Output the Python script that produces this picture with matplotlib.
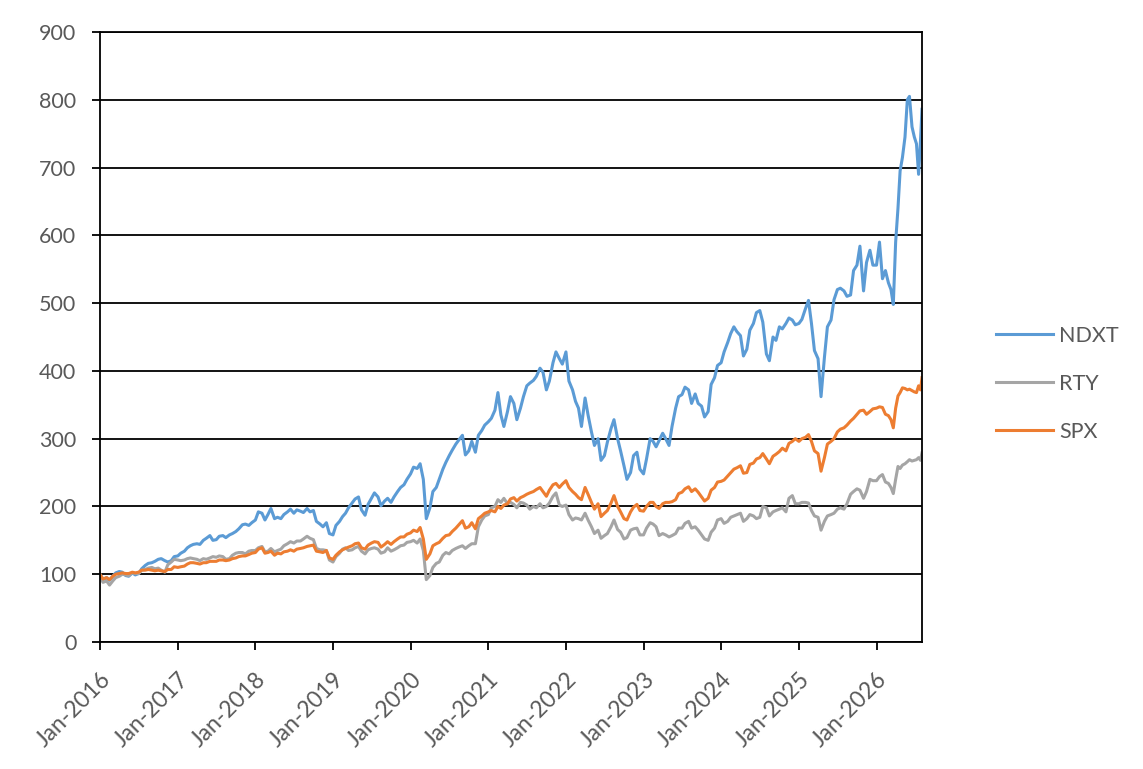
import matplotlib
matplotlib.use("Agg")
import matplotlib.pyplot as plt
import pandas as pd

# semi-monthly points 2016-2025, then denser points through 2026
DATES_2016_2025 = list(pd.date_range("2016-01-01", "2025-12-15", freq="SMS"))
DATES_2026 = ["2026-01-01", "2026-01-15", "2026-01-29", "2026-02-12", "2026-02-26",
              "2026-03-10", "2026-03-21", "2026-04-01", "2026-04-12", "2026-04-22",
              "2026-05-03", "2026-05-15", "2026-05-26", "2026-06-05", "2026-06-17",
              "2026-06-28", "2026-07-08", "2026-07-18", "2026-07-27", "2026-08-03"]

NDXT = [
    100, 92, 95, 91, 97, 102, 104, 103, 98, 97, 102, 99, 101, 108, 113, 116, 117, 119, 122, 123, 120, 118, 120, 126,
    127, 131, 134, 139, 142, 144, 145, 144, 150, 153, 157, 150, 151, 156, 157, 154, 158, 160, 163, 167, 173, 174, 172, 176,
    180, 192, 190, 180, 188, 197, 182, 184, 182, 188, 192, 196, 190, 195, 193, 191, 197, 192, 194, 178, 174, 170, 176, 160,
    158, 172, 178, 185, 190, 198, 205, 211, 214, 195, 187, 203, 212, 220, 214, 201, 208, 212, 206, 214, 222, 228, 232, 240,
    248, 258, 256, 263, 240, 182, 198, 222, 228, 240, 255, 265, 275, 283, 292, 298, 305, 276, 282, 296, 280, 305, 312, 320,
    325, 330, 342, 368, 335, 318, 340, 362, 352, 328, 345, 362, 378, 382, 386, 392, 404, 398, 372, 385, 412, 428, 418, 410,
    428, 385, 372, 355, 345, 318, 360, 335, 310, 290, 300, 268, 275, 295, 315, 328, 300, 282, 260, 240, 250, 275, 280, 255,
    248, 270, 300, 296, 288, 297, 308, 300, 290, 318, 345, 362, 365, 376, 372, 352, 366, 352, 348, 332, 340, 380, 390, 408,
    412, 428, 442, 455, 465, 458, 452, 422, 432, 460, 470, 486, 489, 472, 425, 415, 450, 445, 465, 462, 470, 478, 475, 468,
    470, 476, 492, 504, 470, 430, 418, 362, 420, 465, 475, 505, 520, 522, 518, 510, 512, 548, 556, 584, 518, 560, 578, 556,
    556, 590, 536, 548, 530, 520, 498, 590, 640, 695, 715, 745, 800, 805, 760, 745, 735, 690, 740, 786,
]

RTY = [
    98, 88, 90, 84, 90, 95, 97, 100, 99, 98, 102, 101, 101, 106, 107, 109, 110, 108, 109, 106, 103, 114, 118, 122,
    121, 120, 121, 123, 124, 123, 122, 120, 123, 122, 124, 126, 125, 127, 126, 122, 123, 128, 131, 132, 132, 130, 134, 135,
    135, 139, 141, 133, 134, 138, 133, 135, 137, 142, 145, 148, 146, 149, 149, 152, 156, 153, 151, 138, 136, 136, 135, 121,
    118, 126, 131, 137, 139, 135, 136, 139, 141, 134, 130, 136, 138, 139, 137, 131, 133, 139, 134, 136, 139, 142, 143, 147,
    148, 150, 146, 152, 135, 92, 98, 110, 116, 118, 128, 132, 130, 135, 138, 140, 142, 138, 142, 145, 145, 170, 180, 186,
    188, 198, 200, 210, 206, 212, 204, 206, 203, 198, 206, 205, 202, 196, 200, 198, 204, 198, 200, 205, 215, 220, 202, 200,
    202, 188, 180, 183, 182, 180, 190, 180, 170, 160, 165, 153, 157, 160, 170, 180, 166, 162, 152, 154, 165, 167, 168, 158,
    158, 168, 176, 174, 170, 157, 160, 158, 155, 157, 160, 168, 168, 175, 178, 168, 170, 165, 158, 152, 150, 162, 168, 180,
    182, 175, 178, 184, 186, 188, 190, 178, 182, 188, 186, 182, 184, 200, 198, 186, 192, 194, 196, 198, 192, 212, 216, 204,
    204, 206, 206, 205, 194, 186, 184, 165, 178, 186, 188, 190, 196, 198, 196, 204, 218, 222, 226, 224, 212, 222, 240, 238,
    238, 244, 247, 236, 234, 228, 219, 240, 259, 256, 261, 263, 266, 269, 267, 268, 269, 272, 268, 279,
]

SPX = [
    100, 93, 95, 92, 97, 100, 101, 102, 101, 101, 103, 102, 103, 106, 106, 107, 106, 105, 106, 105, 104, 107, 107, 111,
    110, 111, 112, 115, 117, 117, 116, 115, 117, 117, 119, 119, 119, 121, 121, 120, 121, 123, 124, 126, 127, 127, 129, 131,
    132, 137, 139, 131, 132, 134, 128, 131, 130, 133, 134, 136, 134, 137, 138, 139, 141, 142, 143, 134, 133, 132, 135, 124,
    122, 128, 133, 136, 138, 140, 142, 145, 146, 139, 137, 143, 146, 148, 147, 140, 144, 148, 144, 148, 152, 155, 155, 159,
    161, 165, 163, 169, 152, 122, 130, 142, 145, 147, 153, 157, 158, 163, 168, 173, 179, 168, 170, 176, 167, 182, 186, 190,
    192, 194, 192, 200, 197, 202, 204, 211, 213, 208, 213, 215, 218, 220, 222, 225, 228, 222, 215, 224, 232, 234, 228, 233,
    238, 228, 222, 218, 213, 210, 228, 218, 206, 196, 204, 185, 190, 194, 205, 216, 200, 192, 182, 180, 192, 199, 203, 194,
    193, 200, 206, 206, 200, 197, 204, 206, 206, 207, 210, 219, 221, 226, 229, 222, 226, 221, 214, 208, 212, 224, 228, 236,
    237, 239, 245, 250, 255, 257, 260, 249, 250, 262, 264, 270, 272, 278, 270, 263, 274, 277, 281, 286, 282, 293, 296, 300,
    296, 300, 302, 306, 296, 282, 278, 252, 272, 292, 296, 300, 310, 314, 316, 320, 326, 330, 336, 341, 342, 336, 340, 344,
    345, 347, 346, 336, 334, 328, 316, 345, 363, 368, 375, 374, 372, 373, 371, 369, 368, 378, 372, 390,
]

SERIES = [("NDXT", NDXT, "#5B9BD5"), ("RTY", RTY, "#A5A5A5"), ("SPX", SPX, "#ED7D31")]
YEARS = list(range(2016, 2027))

TEXT = "#595959"
plt.rcParams["font.family"] = ["Lato", "DejaVu Sans"]
plt.rcParams["font.size"] = 15.5

dates = DATES_2016_2025 + list(pd.to_datetime(DATES_2026))

fig = plt.figure(figsize=(11.43, 7.69), dpi=100)
ax = fig.add_axes([100 / 1143, 1 - 642 / 769, 822 / 1143, 610 / 769])

for name, values, color in SERIES:
    ax.plot(dates, values, color=color, linewidth=2.2, label=name, solid_joinstyle="round")

ax.set_ylim(0, 900)
ax.set_yticks(range(0, 901, 100))
ax.set_xlim(dates[0], dates[-1])
ticks = [pd.Timestamp(f"{y}-01-01") for y in YEARS]
ax.set_xticks(ticks)
ax.set_xticklabels([f"Jan-{y}" for y in YEARS], rotation=45, ha="right", va="top",
                   rotation_mode="anchor", fontsize=16.5)

ax.grid(axis="y", color="black", linewidth=1.3)
ax.set_axisbelow(True)
for side in ["left", "bottom", "top", "right"]:
    ax.spines[side].set_color("black")
    ax.spines[side].set_linewidth(1.3)

ax.tick_params(axis="y", direction="out", length=6, width=1.3, color="black",
               labelcolor=TEXT, pad=11)
ax.tick_params(axis="x", direction="out", length=6, width=1.3, color="black",
               labelcolor=TEXT, pad=13)

fig.legend(loc="center left", bbox_to_anchor=(985 / 1143, 1 - 384 / 769), frameon=False,
           handlelength=2.65, handletextpad=0.3, labelspacing=1.3, labelcolor=TEXT,
           borderpad=0)

fig.savefig("out.png", dpi=100, facecolor="white")
